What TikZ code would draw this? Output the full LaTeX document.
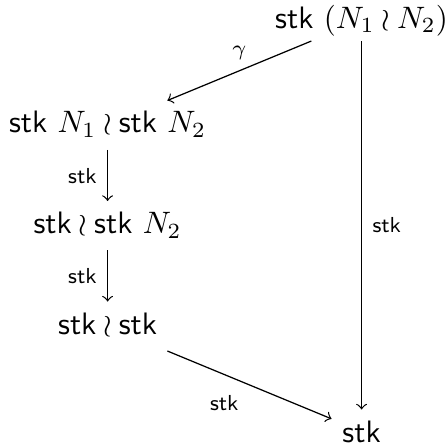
\documentclass[tikz,border=0pt]{standalone}
\usepackage{amsfonts, amsmath, amssymb}
\usepackage{tikz}
\usetikzlibrary{positioning}

\newcommand{\stk}{\mathsf{stk}}

\begin{document}
\begin{tikzpicture}[lbl/.style={font=\scriptsize}]
	\useasboundingbox (0,0) rectangle (5.08,5.08);
	\node[inner sep=1.5pt] (top) at (4.10,4.85) {$\stk\ (N_1 \wr N_2)$};
	\node (wrA) at (1.22,3.66) {$\stk\ N_1 \wr \stk\ N_2$};
	\node (wrB) at (1.22,2.52) {$\stk \wr \stk\ N_2$};
	\node (wrC) at (1.22,1.38) {$\stk \wr \stk$};
	\node (bot) at (4.10,0.19) {$\stk$};
	\draw[->] (top) -- node[lbl,above] (g) {$\gamma$} (wrA);
	\draw[->] (wrA) -- node[lbl,left] (s1) {$\stk$} (wrB);
	\draw[->] (wrB) -- node[lbl,left] (s2) {$\stk$} (wrC);
	\draw[->] (wrC) -- node[lbl,below left] (s3) {$\stk$} (bot);
	\draw[->] (top) -- node[lbl,right] (s4) {$\stk$} (bot);
\end{tikzpicture}
\end{document}
